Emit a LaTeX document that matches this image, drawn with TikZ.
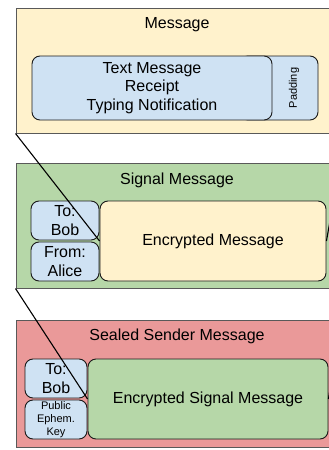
\documentclass[tikz,border=0pt]{standalone}
\usepackage{fontspec}
\setmainfont{Liberation Sans}
\usepackage{xcolor}
\usepackage{tikz}
\usetikzlibrary{calc}
\usetikzlibrary{shapes}
\usetikzlibrary{positioning}
\definecolor{msgyellow}{HTML}{FFF2CC}
\definecolor{msgblue}{HTML}{CFE2F3}
\definecolor{msggreen}{HTML}{B6D7A8}
\definecolor{msgred}{HTML}{EA9999}
\definecolor{framegray}{HTML}{595959}
\definecolor{boxline}{HTML}{1A1A1A}
\tikzset{>=latex}
\tikzstyle{outerbox} = [rectangle, draw=framegray, line width=1pt, inner sep=0pt]
\tikzstyle{innerbox} = [rectangle, rounded corners=8pt, draw=boxline, line width=0.9pt, inner sep=0pt, align=center, font=\fontsize{16}{18.5}\selectfont]
\tikzstyle{smallbox} = [innerbox, font=\fontsize{11}{13}\selectfont]
\tikzstyle{title} = [inner sep=0pt, font=\fontsize{16}{18.5}\selectfont]
\tikzstyle{zoomline} = [-, draw=black, line width=1.1pt]

\begin{document}
\begin{tikzpicture}[x=1pt, y=-1pt]
\useasboundingbox (0, 0) rectangle (329, 450);
\begin{scope}
\clip (0, 0) rectangle (329, 450);
% Message
\node [outerbox, fill=msgyellow, minimum width=329pt, minimum height=125pt] (M) at (180.5, 70.5) {};
\node [title] (Mtitle) at (177, 25) {Message};
\node [innerbox, fill=msgblue, minimum width=78pt, minimum height=64pt] (Pad) at (279, 88) {};
\node [title, rotate=90, font=\fontsize{11}{13}\selectfont] (Padtext) at (294, 88) {Padding};
\node [innerbox, fill=msgblue, minimum width=240pt, minimum height=64pt] (TM) at (152, 88) {Text Message\\Receipt\\Typing Notification};
% Signal Message
\node [outerbox, fill=msggreen, minimum width=329pt, minimum height=125pt] (SM) at (180.5, 225.5) {};
\node [title] (SMtitle) at (177, 180) {Signal Message};
\node [innerbox, fill=msgblue, minimum width=68pt, minimum height=39pt] (ToB) at (65, 220.5) {To:\\Bob};
\node [innerbox, fill=msgblue, minimum width=68pt, minimum height=39pt] (FromA) at (65, 261.5) {From:\\Alice};
\node [innerbox, fill=msgyellow, minimum width=226pt, minimum height=80pt] (EM) at (213, 241) {Encrypted Message};
% Sealed Sender Message
\node [outerbox, fill=msgred, minimum width=329pt, minimum height=127pt] (SSM) at (180.5, 383.5) {};
\node [title] (SSMtitle) at (177, 336) {Sealed Sender Message};
\node [innerbox, fill=msgblue, minimum width=62pt, minimum height=39pt] (ToB2) at (56, 378.5) {To:\\Bob};
\node [smallbox, fill=msgblue, minimum width=62pt, minimum height=39pt] (Key) at (56, 419.5) {Public\\Ephem.\\Key};
\node [innerbox, fill=msggreen, minimum width=240pt, minimum height=80pt] (ESM) at (208, 399) {Encrypted Signal Message};
% zoom lines
\draw [zoomline] (M.south west) to (EM.west);
\draw [zoomline] (M.south east) to (EM.east);
\draw [zoomline] (SM.south west) to (ESM.west);
\draw [zoomline] (SM.south east) to (ESM.east);
\end{scope}
\end{tikzpicture}
\end{document}
